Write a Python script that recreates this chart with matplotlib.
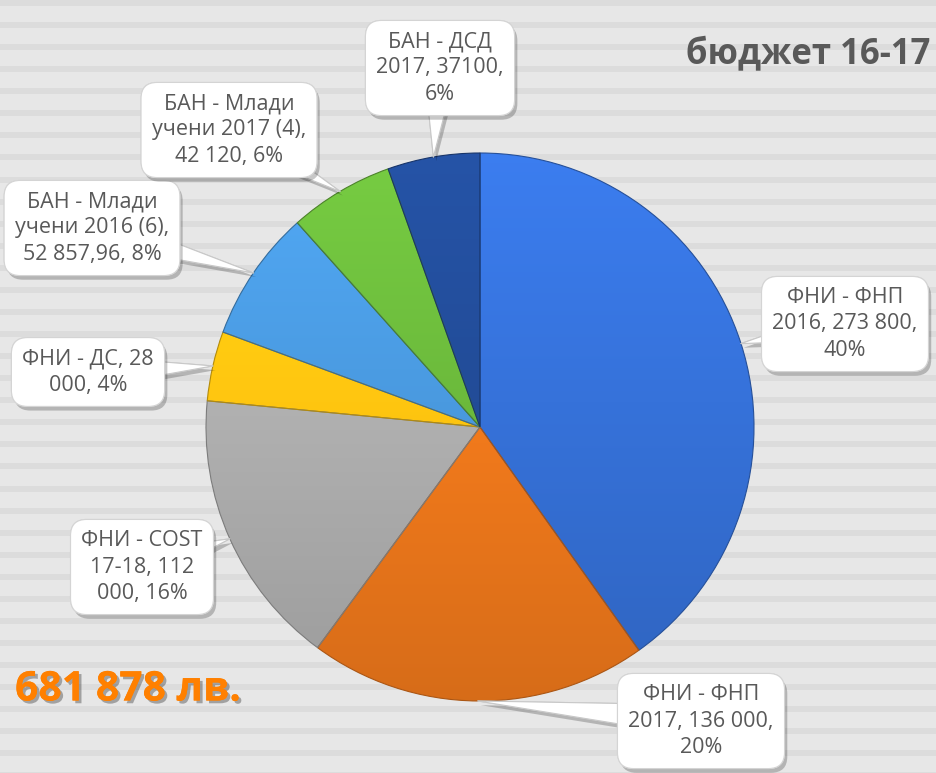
import numpy as np
import matplotlib.pyplot as plt
import matplotlib.colors as mcolors
import matplotlib.patheffects as pe

plt.rcParams['font.family'] = ['Open Sans', 'DejaVu Sans']

# --- data ---
categories = ["ФНИ - ФНП 2016", "ФНИ - ФНП 2017", "ФНИ - COST 17-18", "ФНИ - ДС",
              "БАН - Млади учени 2016 (6)", "БАН - Млади учени 2017 (4)", "БАН - ДСД 2017"]
values = [273800, 136000, 112000, 28000, 52857.96, 42120, 37100]
label_texts = ["ФНИ - ФНП\n2016, 273 800,\n40%",
               "ФНИ - ФНП\n2017, 136 000,\n20%",
               "ФНИ - COST\n17-18, 112\n000, 16%",
               "ФНИ - ДС, 28\n000, 4%",
               "БАН - Млади\nучени 2016 (6),\n52 857,96, 8%",
               "БАН - Млади\nучени 2017 (4),\n42 120, 6%",
               "БАН - ДСД\n2017, 37100,\n6%"]
colors = ["#3672da", "#f47b1c", "#b1b1b1", "#ffc610", "#4a9ae0", "#6cba3c", "#224c98"]
title = "бюджет 16-17"

# --- layout (pixels from top-left) ---
W, H = 936, 773
cx, cy, R = 480, 427, 274
box_centers = [(845, 324), (701, 721), (142, 567), (88, 372), (92, 228), (229, 130), (440, 68)]

fig = plt.figure(figsize=(W / 100, H / 100), dpi=100)
fig.patch.set_facecolor("#e7e7e7")
ax = fig.add_axes([0, 0, 1, 1])
ax.set_facecolor("#e7e7e7")

# striped background
for k in range(int(H / 22.07) + 2):
    y0 = k * 22.07
    ax.axhspan(H - y0 - 6, H - y0, color="#dcdcdc", lw=0, zorder=0)

wedges, _ = ax.pie(values, colors=colors, startangle=90, counterclock=False,
                   center=(cx, H - cy), radius=R,
                   wedgeprops=dict(linewidth=0.8, zorder=3))

# shading on each slice: lighter at top, darker at bottom
for w, c in zip(wedges, colors):
    rgb = np.array(mcolors.to_rgb(c))
    t = np.linspace(1.10, 0.88, 256)
    img = np.clip(rgb[None, None, :] * t[:, None, None], 0, 1)
    im = ax.imshow(img, extent=(cx - R, cx + R, H - cy - R, H - cy + R),
                   origin="upper", aspect="auto", zorder=2, interpolation="bilinear")
    im.set_clip_path(w)
    w.set_facecolor("none")
    w.set_edgecolor(tuple(np.clip(rgb * 0.7, 0, 1)))

# callout labels
for w, txt, (bx, by) in zip(wedges, label_texts, box_centers):
    ang = np.deg2rad((w.theta1 + w.theta2) / 2)
    tip = (cx + R * np.cos(ang), H - cy + R * np.sin(ang))
    ann = ax.annotate(txt, xy=tip, xytext=(bx, H - by), ha="center", va="center",
                      fontsize=15.5, color="#595959", linespacing=1.33, zorder=5,
                      bbox=dict(boxstyle="round,pad=0.5,rounding_size=0.75",
                                fc="white", ec="#d4d4d4", lw=0.8),
                      arrowprops=dict(arrowstyle="wedge,tail_width=1.5,shrink_factor=0.5",
                                      fc="white", ec="#c8c8c8", lw=0.8,
                                      patchA=None, shrinkA=0, shrinkB=0))
    shadow = [pe.withSimplePatchShadow(offset=(2, -3), shadow_rgbFace="black", alpha=0.22),
              pe.Normal()]
    ann.get_bbox_patch().set_path_effects(shadow)
    ann.arrow_patch.set_path_effects(shadow)

ax.text(930, H - 55, title, ha="right", va="center", fontsize=25,
        fontweight="bold", color="#595959", zorder=6)

total = round(sum(values))
ax.text(15, H - 690, f"{total:,}".replace(",", " ") + " лв.", ha="left", va="center",
        fontsize=29.5, fontweight="bold", color="#ff8000", zorder=6,
        path_effects=[pe.withSimplePatchShadow(offset=(2, -2), shadow_rgbFace="black", alpha=0.3),
                      pe.Normal()])

ax.set_xlim(0, W)
ax.set_ylim(0, H)
ax.set_aspect("auto")
ax.axis("off")

fig.savefig("out.png", dpi=100, facecolor=fig.get_facecolor())
